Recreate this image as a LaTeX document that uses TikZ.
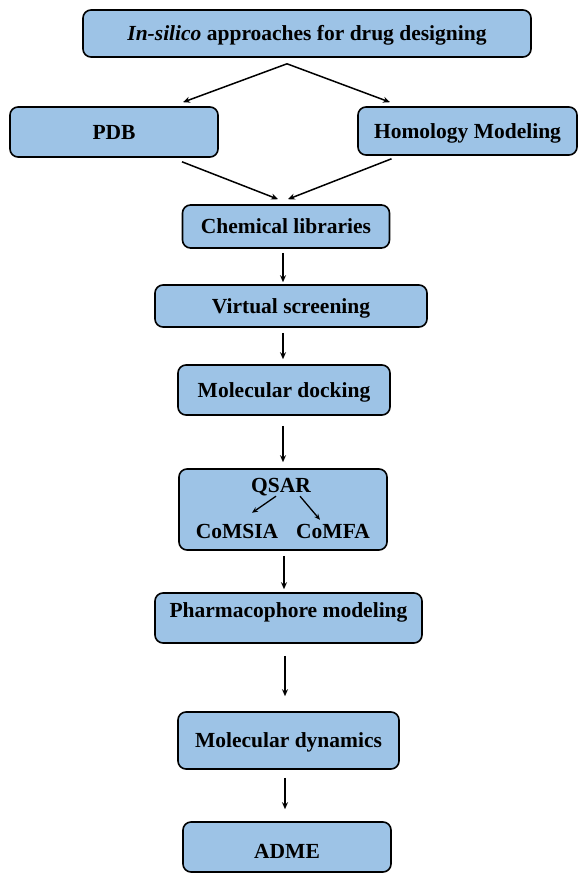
\documentclass[tikz,border=0pt]{standalone}
\usepackage{fontspec}
\setmainfont{Liberation Serif}
\usetikzlibrary{arrows.meta}
\definecolor{boxblue}{RGB}{157,195,230}
\begin{document}
\begin{tikzpicture}[x=1pt,y=-1pt,
  boxnode/.style={draw=black, line width=1.6pt, fill=boxblue, rounded corners=8pt,
    inner sep=0pt, font=\fontsize{21.5}{24}\selectfont\bfseries,
    text height=16.5pt, text depth=2.5pt},
  txt/.style={inner sep=0pt, font=\fontsize{21.5}{24}\selectfont\bfseries,
    text height=16.5pt, text depth=2.5pt},
  arr/.style={draw=black, line width=1.5pt, -{Stealth[length=7pt,width=6pt]}}]
\useasboundingbox (0,0) rectangle (585,875);

\node[boxnode, minimum width=448pt, minimum height=47pt] (top) at (307,33.5) {\textit{In-silico} approaches for drug designing};
\node[boxnode, minimum width=208pt, minimum height=50pt] (pdb) at (114,132) {PDB};
\node[boxnode, minimum width=219pt, minimum height=48pt] (hom) at (467.5,131) {Homology Modeling};
\node[boxnode, minimum width=207pt, minimum height=43pt] (chem) at (286,226.5) {Chemical libraries};
\node[boxnode, minimum width=272pt, minimum height=42pt] (vs) at (291,306) {Virtual screening};
\node[boxnode, minimum width=212pt, minimum height=50pt] (dock) at (284,390) {Molecular docking};
\node[boxnode, minimum width=208pt, minimum height=81pt] (qsar) at (283,509.5) {};
\node[txt] (qsart) at (281,485) {QSAR};
\node[txt] (comsia) at (237,531) {CoMSIA};
\node[txt] (comfa) at (333,531) {CoMFA};
\node[boxnode, minimum width=267pt, minimum height=50pt] (pharm) at (288.5,618) {\raisebox{8pt}[\height][\depth]{Pharmacophore modeling}};
\node[boxnode, minimum width=221pt, minimum height=57pt] (dyn) at (288.5,740.5) {Molecular dynamics};
\node[boxnode, minimum width=208pt, minimum height=50pt] (adme) at (287,847) {\raisebox{-4pt}[\height][\depth]{ADME}};

% top splits
\draw[arr] ([xshift=-20pt,yshift=-6pt]top.south) -- ([xshift=69pt,yshift=4pt]pdb.north);
\draw[arr] ([xshift=-20pt,yshift=-6pt]top.south) -- ([xshift=-77.5pt,yshift=4pt]hom.north);
% merge into chemical libraries
\draw[arr] ([xshift=68pt,yshift=-4pt]pdb.south) -- ([xshift=-8pt,yshift=5pt]chem.north);
\draw[arr] ([xshift=-76pt,yshift=-3pt]hom.south) -- ([xshift=2pt,yshift=5pt]chem.north);
% vertical chain
\draw[arr, shorten <=4pt, shorten >=2pt] ([xshift=-3pt]chem.south) -- ([xshift=-3pt]chem.south |- vs.north);
\draw[arr, shorten <=5pt, shorten >=5pt] ([xshift=-8pt]vs.south) -- ([xshift=-8pt]vs.south |- dock.north);
\draw[arr, shorten <=10pt, shorten >=6pt] ([xshift=-1pt]dock.south) -- ([xshift=-1pt]dock.south |- qsar.north);
\draw[arr, shorten <=5pt, shorten >=3pt] ([xshift=1pt]qsar.south) -- ([xshift=1pt]qsar.south |- pharm.north);
\draw[arr, shorten <=12pt, shorten >=15pt] ([xshift=-3.5pt]pharm.south) -- ([xshift=-3.5pt]pharm.south |- dyn.north);
\draw[arr, shorten <=8pt, shorten >=12pt] ([xshift=-3.5pt]dyn.south) -- ([xshift=-3.5pt]dyn.south |- adme.north);
% inside QSAR
\draw[arr, line width=1.3pt, -{Stealth[length=6pt,width=5pt]}] ([xshift=-5pt,yshift=-1.5pt]qsart.south) -- ([xshift=15pt,yshift=8.5pt]comsia.north);
\draw[arr, line width=1.3pt, -{Stealth[length=6pt,width=5pt]}] ([xshift=19pt,yshift=-1.5pt]qsart.south) -- ([xshift=-13pt,yshift=1.5pt]comfa.north);
\end{tikzpicture}
\end{document}
